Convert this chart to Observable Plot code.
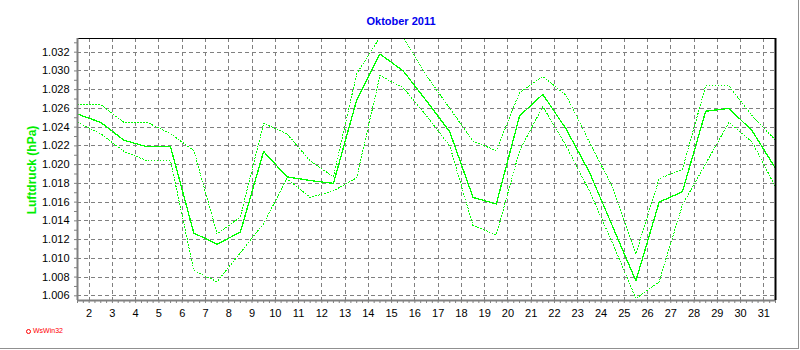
<!DOCTYPE html>
<html><head><meta charset="utf-8">
<script src="https://cdn.jsdelivr.net/npm/d3@7"></script>
<script src="https://cdn.jsdelivr.net/npm/@observablehq/plot@0.6"></script>
<style>
body{margin:0;background:#fff;}
#wrap{position:relative;width:800px;height:350px;overflow:hidden;font-family:"Liberation Sans",Arial,sans-serif;background:#fff;}
#chart{position:absolute;left:0;top:0;}
#title{position:absolute;left:1px;top:15px;width:800px;text-align:center;font-size:11px;line-height:13px;font-weight:bold;color:#0000ee;}
#ylab{position:absolute;left:32px;top:170px;transform:translate(-50%,-50%) rotate(-90deg);white-space:nowrap;font-size:12px;font-weight:bold;color:#00ee00;}
#logo{position:absolute;left:26px;top:327px;font-size:7px;line-height:8px;color:#ff0000;white-space:nowrap;}
#logo i{display:inline-block;width:3px;height:3px;border:1px solid #ff0000;border-radius:50%;margin-right:2px;vertical-align:middle;}
#border{position:absolute;left:0;top:0;width:798px;height:348px;border-right:1px solid #909090;border-bottom:1px solid #909090;pointer-events:none;}
</style>
</head><body>
<div id="wrap">
  <div id="chart"></div>
  <div id="title">Oktober 2011</div>
  <div id="ylab">Luftdruck (hPa)</div>
  <div id="logo"><i></i>WsWin32</div>
  <div id="border"></div>
</div>
<script>
const days = d3.range(1, 32);
const meanP = [1.0254, 1.0245, 1.0226, 1.0219, 1.0219, 1.0127, 1.0115, 1.0128, 1.0214, 1.0187, 1.0183, 1.0180, 1.0269, 1.0318, 1.0300, 1.0268, 1.0235, 1.0165, 1.0158, 1.0252, 1.0275, 1.0238, 1.0192, 1.0134, 1.0076, 1.0160, 1.0171, 1.0257, 1.0260, 1.0236, 1.0196];
const maxP  = [1.0264, 1.0264, 1.0245, 1.0245, 1.0233, 1.0215, 1.0126, 1.0144, 1.0244, 1.0233, 1.0204, 1.0187, 1.0297, 1.0336, 1.0336, 1.0295, 1.0260, 1.0225, 1.0215, 1.0277, 1.0294, 1.0274, 1.0224, 1.0176, 1.0105, 1.0185, 1.0195, 1.0284, 1.0284, 1.0252, 1.0226];
const minP  = [1.0245, 1.0233, 1.0214, 1.0204, 1.0204, 1.0087, 1.0075, 1.0106, 1.0137, 1.0185, 1.0165, 1.0172, 1.0186, 1.0295, 1.0282, 1.0252, 1.0220, 1.0135, 1.0125, 1.0215, 1.0262, 1.0220, 1.0172, 1.0116, 1.0057, 1.0075, 1.0157, 1.0201, 1.0245, 1.0224, 1.0176];
const xTickLabels = d3.range(2, 32);
const yTickLabels = [1.006, 1.008, 1.010, 1.012, 1.014, 1.016, 1.018, 1.020, 1.022, 1.024, 1.026, 1.028, 1.030, 1.032];

const rows = days.map((d, i) => ({day: d + 0.5, mean: meanP[i], max: maxP[i], min: minP[i]}));
const xDomain = [1.5, 31.5];
const yDomain = [1.0055, 1.03346];
const xMinor = d3.range(6, 127).map(k => k / 4);
const yMinor = d3.range(1006, 1034).map(k => k / 1000);
const green = "#00ff00";
const grid = "#808080";

const chart = Plot.plot({
  width: 800, height: 350,
  marginLeft: 77, marginRight: 25, marginTop: 38, marginBottom: 50,
  x: {domain: xDomain},
  y: {domain: yDomain},
  style: {fontFamily: "Liberation Sans, Arial, sans-serif", fontSize: "11px", color: "#000", background: "transparent"},
  marks: [
    Plot.ruleX(xTickLabels, {stroke: grid, strokeWidth: 1, strokeDasharray: "4,3", strokeOpacity: 1, shapeRendering: "crispEdges"}),
    Plot.ruleY(yTickLabels, {stroke: grid, strokeWidth: 1, strokeDasharray: "4,3", strokeOpacity: 1, shapeRendering: "crispEdges"}),
    Plot.line(rows, {x: "day", y: "max", stroke: green, strokeWidth: 1, strokeDasharray: "1,2", clip: true, shapeRendering: "crispEdges"}),
    Plot.line(rows, {x: "day", y: "min", stroke: green, strokeWidth: 1, strokeDasharray: "1,2", clip: true, shapeRendering: "crispEdges"}),
    Plot.line(rows, {x: "day", y: "mean", stroke: green, strokeWidth: 1.3, clip: true, shapeRendering: "crispEdges"}),
    Plot.frame({stroke: "#000", strokeWidth: 1}),
    Plot.ruleX([xDomain[0]], {stroke: grid, strokeWidth: 2}),
    Plot.ruleY([yDomain[0]], {stroke: grid, strokeWidth: 2}),
    Plot.ruleX([xDomain[1]], {stroke: "#000", strokeWidth: 2}),
    Plot.axisX({ticks: xMinor, tickSize: 3, tickFormat: () => "", stroke: grid, label: null}),
    Plot.axisX({ticks: xTickLabels, tickSize: 0, tickPadding: 9, tickFormat: d => String(d), label: null}),
    Plot.axisY({ticks: yMinor, tickSize: 3, tickFormat: () => "", stroke: grid, label: null}),
    Plot.axisY({ticks: yTickLabels, tickSize: 0, tickPadding: 8, tickFormat: d3.format(".3f"), label: null})
  ]
});
document.getElementById("chart").appendChild(chart);
</script>
</body></html>
